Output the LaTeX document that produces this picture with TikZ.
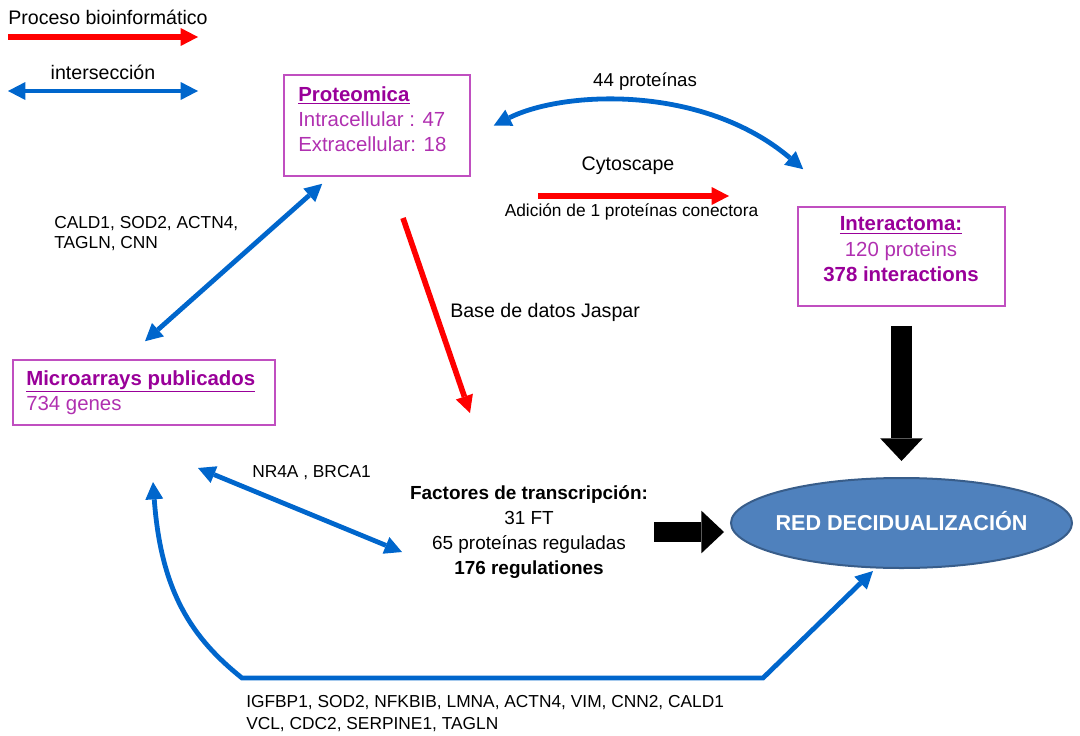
\documentclass[tikz,border=0pt]{standalone}
\usepackage{fontspec}
\setmainfont{Liberation Sans}
\usetikzlibrary{arrows.meta,shapes.geometric}

\definecolor{procred}{HTML}{FF0000}
\definecolor{linkblue}{HTML}{0066CC}
\definecolor{boxline}{HTML}{C04FC0}
\definecolor{boxtxt}{HTML}{B030B0}
\definecolor{boxhead}{HTML}{990099}
\definecolor{ellfill}{HTML}{4F81BD}
\definecolor{ellline}{HTML}{385D8A}

\begin{document}
\begin{tikzpicture}[
   x=0.75pt,
   y=-0.75pt,
   >={Triangle[length=13pt,width=13.5pt,line width=0pt]},
   flow/.style={
      ->,
      draw=procred,
      line width=4.2pt
   },
   link/.style={
      <->,
      draw=linkblue,
      line width=3.6pt
   },
   bigarrow/.style={
      -{Triangle[length=17pt,width=32pt,line width=0pt]},
      draw=black,
      line width=15.5pt
   },
   databox/.style={
      draw=boxline,
      line width=1.2pt,
      inner sep=0pt
   },
   boxtext/.style={
      inner sep=0pt,
      text=boxtxt,
      font=\fontsize{15.3pt}{18.9pt}\selectfont
   },
   note/.style={
      inner sep=0pt,
      font=\fontsize{14.7pt}{18pt}\selectfont
   },
   gene/.style={
      inner sep=0pt,
      align=left,
      font=\fontsize{13pt}{15pt}\selectfont
   }
]

   \useasboundingbox (0,0) rectangle (1080,735);

   % Legend
   \node[note, anchor=west] (legflow) at (8,17) {Proceso bioinformático};

   \coordinate (legflowA) at (8,37);
   \coordinate (legflowB) at (198,37);
   \draw[flow] (legflowA) -- (legflowB);

   \node[note] (leglink) at (103,72) {intersección};

   \coordinate (leglinkA) at (8,91);
   \coordinate (leglinkB) at (198,91);
   \draw[link] (leglinkA) -- (leglinkB);

   % Proteomica
   \node[
      databox,
      minimum width=139.5pt,
      minimum height=75.75pt
   ] (prot) at (377,125.5) {};

   \node[boxtext, align=left, anchor=north west] (prottext) at (298,86)
   {
      \textcolor{boxhead}{\underline{\textbf{Proteomica}}}\\
      Intracellular : 47\\
      Extracellular: 18
   };

   % Interactoma
   \node[
      databox,
      minimum width=155.25pt,
      minimum height=74.25pt
   ] (inter) at (901.5,256.5) {};

   \node[boxtext, align=center, font=\fontsize{15.3pt}{19.1pt}\selectfont]
      (intertext) at (901,249.5)
   {
      \textcolor{boxhead}{\underline{\textbf{Interactoma:}}}\\
      120 proteins\\
      \textcolor{boxhead}{\textbf{378 interactions}}
   };

   % Microarrays
   \node[
      databox,
      minimum width=196.5pt,
      minimum height=48.75pt
   ] (micro) at (144,392.5) {};

   \node[boxtext, align=left, anchor=north west] (microtext) at (26,370.5)
   {
      \textcolor{boxhead}{\underline{\textbf{Microarrays publicados}}}\\
      734 genes
   };

   % Red de decidualizacion
   \node[
      ellipse,
      draw=ellline,
      line width=1.5pt,
      fill=ellfill,
      minimum width=255.75pt,
      minimum height=67.5pt,
      inner xsep=-15pt,
      inner ysep=0pt,
      text=white,
      text height=11.6pt,
      text depth=0pt,
      font=\bfseries\fontsize{16.2pt}{19pt}\selectfont
   ] (decid) at (901.5,523) {RED DECIDUALIZACIÓN};

   % Factores de transcripcion
   \node[note, align=center, font=\fontsize{14.2pt}{18.75pt}\selectfont]
      (fact) at (529,532)
   {
      \textbf{Factores de transcripción:}\\
      31 FT\\
      65 proteínas reguladas\\
      \textbf{176 regulationes}
   };

   % Proteomica <-> Interactoma
   \node[note, font=\fontsize{14pt}{17pt}\selectfont] (nprot) at (645,82)
      {44 proteínas};

   \draw[link]
      ([xshift=17.25pt]prot.east)
      .. controls +(70,-35) and +(-100,-85) ..
      ([xshift=4.5pt,yshift=27.75pt]inter.north west);

   % Cytoscape
   \node[note] (ncyto) at (628,166) {Cytoscape};

   \coordinate (cytoA) at (538,196);
   \coordinate (cytoB) at (729,196);
   \draw[flow] (cytoA) -- (cytoB);

   \node[gene] (nconn) at (631.5,212) {Adición de 1 proteínas conectora};

   % Jaspar
   \node[note, anchor=west] (njaspar) at (450,312) {Base de datos Jaspar};

   \coordinate (jasparA) at (403,218);
   \coordinate (jasparB) at (470,413);
   \draw[flow] (jasparA) -- (jasparB);

   % Proteomica <-> Microarrays
   \node[gene, anchor=north west] (ncald) at (54,216.5)
   {
      CALD1, SOD2, ACTN4,\\
      TAGLN, CNN
   };

   \draw[link]
      ([xshift=29.25pt,yshift=-5.25pt]prot.south west)
      -- ([xshift=0.75pt,yshift=13.5pt]micro.north);

   % Microarrays <-> Factores
   \node[gene] (nnr4a) at (311.5,473) {NR4A , BRCA1};

   \coordinate (nrA) at (198,468);
   \coordinate (nrB) at (402,552);
   \draw[link] (nrA) -- (nrB);

   % Microarrays <-> Red
   \coordinate (loopA) at (153,482);
   \coordinate (loopB) at (242,678);
   \coordinate (loopC) at (763,678);

   \draw[link]
      (loopA)
      .. controls +(8,110) and +(-50,-40) .. (loopB)
      -- (loopC)
      -- ([xshift=-21.4pt,yshift=-1.5pt]decid.south);

   \node[gene, anchor=north west, font=\fontsize{13pt}{16.5pt}\selectfont]
      (ngenes) at (246,695.5)
   {
      IGFBP1, SOD2, NFKBIB, LMNA, ACTN4, VIM, CNN2, CALD1\\
      VCL, CDC2, SERPINE1, TAGLN
   };

   % Interactoma and Factores -> Red
   \draw[bigarrow]
      ([yshift=-14.25pt]inter.south)
      -- ([yshift=12pt]decid.north);

   \draw[bigarrow, shorten <=4.5pt, shorten >=4.5pt]
      (fact.east) -- (fact.east -| decid.west);

\end{tikzpicture}
\end{document}
